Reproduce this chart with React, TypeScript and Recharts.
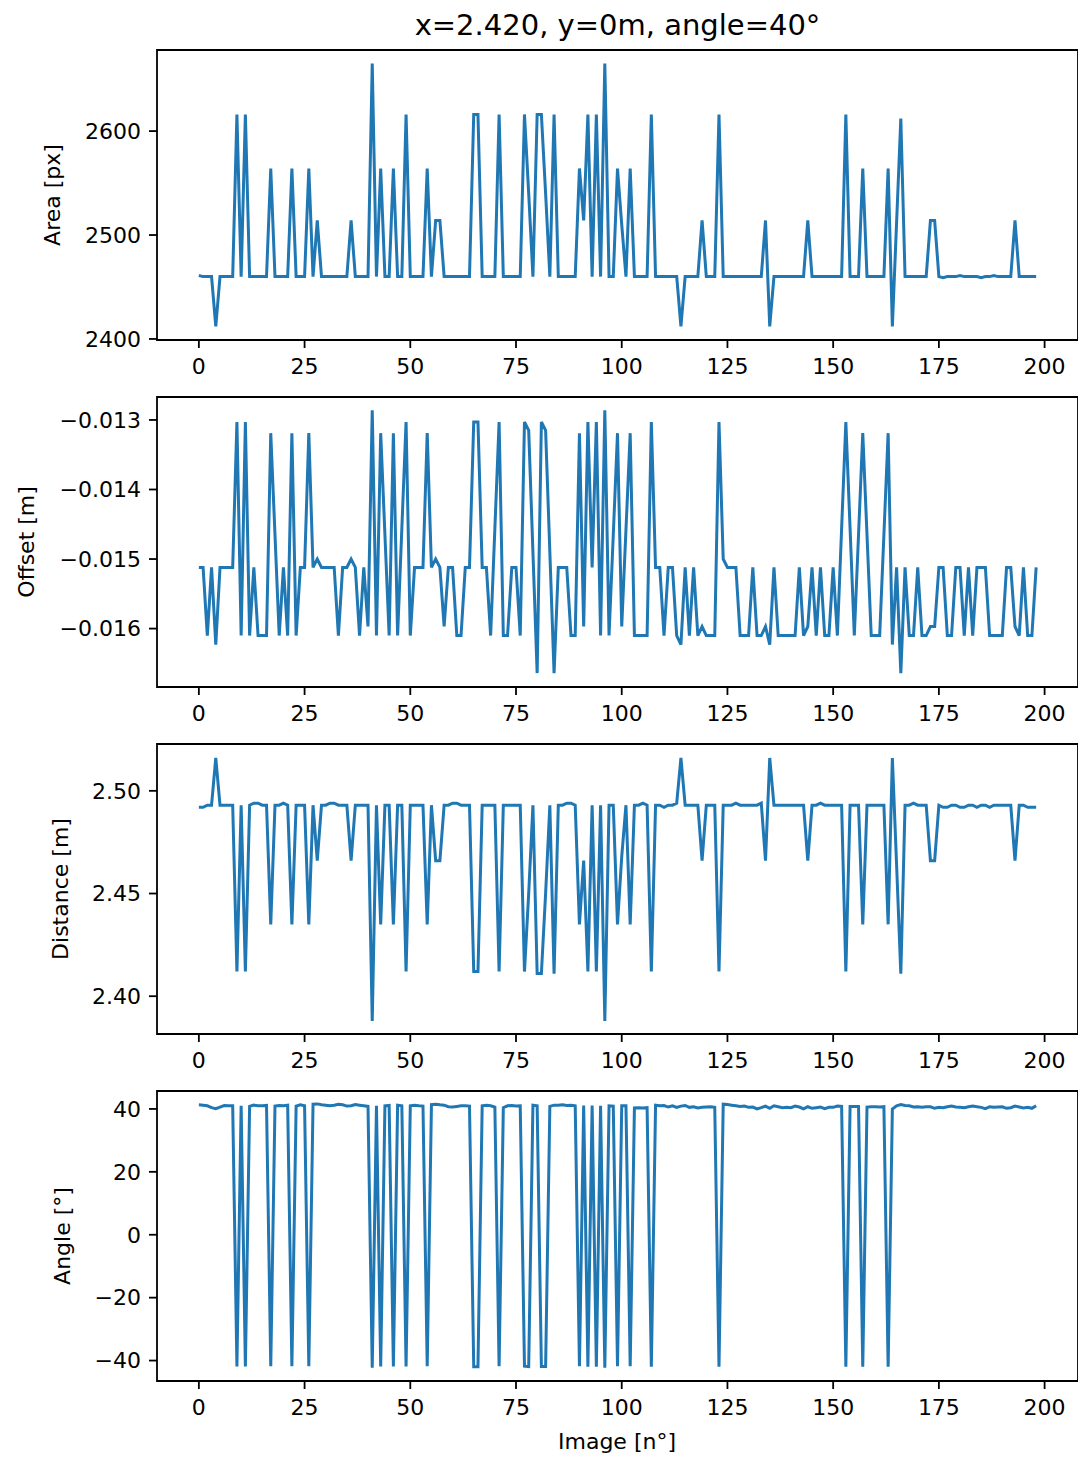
import { LineChart, Line, XAxis, YAxis, ReferenceArea } from 'recharts'

const FONT = '"DejaVu Sans", sans-serif'
const BLUE = '#1f77b4'

const IMAGE_TICKS = [0, 25, 50, 75, 100, 125, 150, 175, 200]
const AREA_TICKS = [2400, 2500, 2600]
const OFFSET_TICKS = [-0.016, -0.015, -0.014, -0.013]
const DISTANCE_TICKS = [2.4, 2.45, 2.5]
const ANGLE_TICKS = [-40, -20, 0, 20, 40]

// Area [px], one value per image
const AREA = [
  2461, 2460, 2460, 2460, 2412, 2460, 2460, 2460, 2460, 2616, 2460, 2616, 2460, 2460, 2460, 2460, 2460, 2564, 2460, 2460,
  2460, 2460, 2564, 2460, 2460, 2460, 2564, 2460, 2514, 2460, 2460, 2460, 2460, 2460, 2460, 2460, 2514, 2460, 2460, 2460,
  2460, 2665, 2460, 2564, 2460, 2460, 2564, 2460, 2460, 2616, 2460, 2460, 2460, 2460, 2564, 2460, 2514, 2514, 2460, 2460,
  2460, 2460, 2460, 2460, 2460, 2616, 2616, 2460, 2460, 2460, 2460, 2616, 2460, 2460, 2460, 2460, 2460, 2616, 2540, 2460,
  2616, 2616, 2540, 2460, 2616, 2460, 2460, 2460, 2460, 2460, 2564, 2514, 2616, 2460, 2616, 2460, 2665, 2460, 2460, 2564,
  2510, 2460, 2564, 2460, 2460, 2460, 2460, 2616, 2460, 2460, 2460, 2460, 2460, 2460, 2412, 2460, 2460, 2460, 2460, 2514,
  2460, 2460, 2460, 2616, 2460, 2460, 2460, 2460, 2460, 2460, 2460, 2460, 2460, 2460, 2514, 2412, 2460, 2460, 2460, 2460,
  2460, 2460, 2460, 2460, 2514, 2460, 2460, 2460, 2460, 2460, 2460, 2460, 2460, 2616, 2460, 2460, 2460, 2564, 2460, 2460,
  2460, 2460, 2460, 2564, 2412, 2512, 2612, 2460, 2460, 2460, 2460, 2460, 2460, 2514, 2514, 2460, 2459, 2460, 2460, 2460,
  2461, 2460, 2460, 2460, 2460, 2459, 2460, 2460, 2461, 2460, 2460, 2460, 2460, 2514, 2460, 2460, 2460, 2460, 2460,
]

// Offset [m]
const OFFSET = [
  -0.01512, -0.01512, -0.0161, -0.01512, -0.01623, -0.01512, -0.01512, -0.01512, -0.01512, -0.01303, -0.0161, -0.01303, -0.0161, -0.01512, -0.0161, -0.0161, -0.0161, -0.01319, -0.01465, -0.0161,
  -0.01512, -0.0161, -0.01319, -0.0161, -0.01512, -0.01512, -0.01319, -0.01512, -0.015, -0.01512, -0.01512, -0.01512, -0.01512, -0.0161, -0.01512, -0.01512, -0.015, -0.01512, -0.0161, -0.01512,
  -0.01597, -0.01286, -0.0161, -0.01319, -0.01465, -0.0161, -0.01319, -0.0161, -0.01456, -0.01303, -0.0161, -0.01512, -0.01512, -0.01512, -0.01319, -0.01512, -0.015, -0.01512, -0.01597, -0.01512,
  -0.01512, -0.0161, -0.0161, -0.01512, -0.01512, -0.01303, -0.01303, -0.01512, -0.01512, -0.0161, -0.01456, -0.01303, -0.0161, -0.0161, -0.01512, -0.01512, -0.0161, -0.01303, -0.01315, -0.0149,
  -0.01664, -0.01303, -0.01315, -0.0149, -0.01664, -0.01512, -0.01512, -0.01512, -0.0161, -0.0161, -0.01319, -0.01597, -0.01303, -0.01512, -0.01303, -0.0161, -0.01286, -0.0161, -0.01465, -0.01319,
  -0.01597, -0.01458, -0.01319, -0.0161, -0.0161, -0.0161, -0.0161, -0.01303, -0.01512, -0.01512, -0.0161, -0.01512, -0.01512, -0.0161, -0.01623, -0.01512, -0.0161, -0.01512, -0.0161, -0.01597,
  -0.0161, -0.0161, -0.0161, -0.01303, -0.015, -0.01512, -0.01512, -0.01512, -0.0161, -0.0161, -0.0161, -0.01512, -0.0161, -0.0161, -0.01597, -0.01623, -0.01512, -0.0161, -0.0161, -0.0161,
  -0.0161, -0.0161, -0.01512, -0.0161, -0.01597, -0.01512, -0.0161, -0.01512, -0.0161, -0.0161, -0.01512, -0.0161, -0.01456, -0.01303, -0.01456, -0.0161, -0.01465, -0.01319, -0.01465, -0.0161,
  -0.0161, -0.0161, -0.01465, -0.01319, -0.01623, -0.01512, -0.01664, -0.01512, -0.0161, -0.0161, -0.01512, -0.0161, -0.0161, -0.01597, -0.01597, -0.01512, -0.01512, -0.0161, -0.0161, -0.01512,
  -0.01512, -0.0161, -0.01512, -0.0161, -0.01512, -0.01512, -0.01512, -0.0161, -0.0161, -0.0161, -0.0161, -0.01512, -0.01512, -0.01597, -0.0161, -0.01512, -0.0161, -0.0161, -0.01512,
]

// Distance [m]
const DISTANCE = [
  2.492, 2.492, 2.493, 2.493, 2.516, 2.493, 2.493, 2.493, 2.493, 2.412, 2.493, 2.412, 2.493, 2.494, 2.494, 2.493, 2.493, 2.435, 2.493, 2.493,
  2.494, 2.493, 2.435, 2.493, 2.493, 2.493, 2.435, 2.493, 2.466, 2.493, 2.493, 2.494, 2.494, 2.493, 2.493, 2.493, 2.466, 2.493, 2.493, 2.493,
  2.493, 2.388, 2.493, 2.435, 2.493, 2.493, 2.435, 2.493, 2.493, 2.412, 2.493, 2.493, 2.493, 2.493, 2.435, 2.493, 2.466, 2.466, 2.493, 2.493,
  2.494, 2.494, 2.493, 2.493, 2.493, 2.412, 2.412, 2.493, 2.493, 2.493, 2.493, 2.412, 2.493, 2.493, 2.493, 2.493, 2.493, 2.412, 2.45, 2.493,
  2.411, 2.411, 2.45, 2.493, 2.411, 2.493, 2.493, 2.494, 2.494, 2.493, 2.435, 2.466, 2.412, 2.493, 2.412, 2.493, 2.388, 2.493, 2.493, 2.435,
  2.468, 2.493, 2.435, 2.493, 2.493, 2.494, 2.493, 2.412, 2.493, 2.493, 2.492, 2.493, 2.493, 2.494, 2.516, 2.493, 2.493, 2.493, 2.493, 2.466,
  2.493, 2.493, 2.493, 2.412, 2.493, 2.493, 2.493, 2.494, 2.493, 2.493, 2.493, 2.493, 2.493, 2.494, 2.466, 2.516, 2.493, 2.493, 2.493, 2.493,
  2.493, 2.493, 2.493, 2.493, 2.466, 2.493, 2.493, 2.494, 2.493, 2.493, 2.493, 2.493, 2.493, 2.412, 2.493, 2.493, 2.493, 2.435, 2.493, 2.493,
  2.493, 2.493, 2.493, 2.435, 2.516, 2.464, 2.411, 2.493, 2.493, 2.494, 2.493, 2.493, 2.493, 2.466, 2.466, 2.493, 2.492, 2.492, 2.493, 2.493,
  2.492, 2.492, 2.493, 2.493, 2.492, 2.493, 2.493, 2.492, 2.493, 2.493, 2.493, 2.493, 2.493, 2.466, 2.493, 2.493, 2.492, 2.492, 2.492,
]

// Angle [°]
const ANGLE = [
  41.3, 41.2, 41.0, 40.4, 40.1, 40.6, 41.1, 41.0, 41.0, -41.9, 41.0, -41.9, 40.8, 41.2, 41.0, 41.0, 41.1, -41.8, 40.9, 41.1,
  41.0, 41.2, -41.8, 40.9, 41.3, 41.0, -41.8, 41.5, 41.6, 41.3, 41.2, 41.0, 41.2, 41.5, 41.3, 40.9, 41.0, 41.4, 41.2, 41.0,
  40.8, -42.3, 41.0, -41.9, 41.0, 41.1, -41.9, 41.2, 41.0, -41.9, 41.0, 41.2, 41.0, 40.9, -41.8, 41.4, 41.5, 41.3, 41.2, 40.7,
  40.6, 40.8, 41.0, 41.0, 40.9, -42.0, -42.0, 41.0, 41.2, 41.0, 40.6, -41.8, 40.4, 41.0, 41.1, 40.9, 41.0, -41.8, -41.9, 41.2,
  41.0, -41.9, -41.9, 40.8, 41.2, 41.2, 41.3, 41.1, 41.2, 41.0, -41.8, 41.1, -42.0, 41.1, -42.0, 41.0, -42.3, 41.0, 40.9, -41.8,
  41.0, 41.0, -41.8, 40.3, 40.4, 40.3, 40.4, -42.0, 41.2, 41.0, 41.1, 40.6, 41.0, 40.5, 40.9, 41.1, 40.5, 40.7, 40.3, 40.5,
  40.6, 40.7, 40.5, -42.0, 41.5, 41.4, 41.2, 41.0, 40.8, 40.9, 40.5, 40.6, 40.0, 40.4, 40.9, 40.2, 41.0, 40.7, 40.4, 40.5,
  40.4, 40.9, 40.6, 40.0, 40.7, 40.2, 40.4, 40.6, 40.1, 40.5, 40.5, 40.9, 40.8, -42.0, 40.8, 40.8, 40.8, -42.0, 40.6, 40.7,
  40.7, 40.6, 40.7, -42.0, 40.0, 41.0, 41.4, 41.1, 41.0, 40.6, 40.7, 40.5, 40.7, 40.7, 40.2, 40.5, 40.4, 40.7, 40.9, 40.6,
  40.5, 40.4, 40.7, 40.9, 40.7, 40.5, 40.1, 40.7, 40.5, 40.6, 40.7, 40.2, 40.4, 40.9, 40.6, 40.3, 40.5, 40.2, 41.0,
]

const rows = AREA.map((a, i) => ({ i, area: a, offset: OFFSET[i], distance: DISTANCE[i], angle: ANGLE[i] }))

const X_DOMAIN: [number, number] = [-9.9, 207.9]
const PLOT_H = 290
const TOP_PAD = 10

const minus = (s: string) => s.replace('-', '\u2212')

const tickStyle = { fill: '#000', fontSize: 22, fontFamily: FONT }
const tickLineStyle = { stroke: '#000', strokeWidth: 1.8 }

function yLabel(text: string, x: number) {
  const y = TOP_PAD + PLOT_H / 2
  return () => (
    <text x={x} y={y} transform={`rotate(-90 ${x} ${y})`} textAnchor="middle" dominantBaseline="central"
      fontSize={22} fontFamily={FONT} fill="#000">{text}</text>
  )
}

function xLabel() {
  return (
    <text x={617} y={TOP_PAD + PLOT_H + 60} textAnchor="middle" dominantBaseline="central"
      fontSize={22} fontFamily={FONT} fill="#000">Image [n°]</text>
  )
}

type PanelProps = {
  top: number
  dataKey: string
  domain: [number, number]
  ticks: number[]
  fmt?: (v: number) => string
  label: string
  labelX: number
  last?: boolean
}

function Panel({ top, dataKey, domain, ticks, fmt, label, labelX, last }: PanelProps) {
  const xh = last ? 80 : 50
  return (
    <div style={{ position: 'absolute', left: 0, top: top - TOP_PAD }}>
      <LineChart width={1078} height={TOP_PAD + PLOT_H + xh} data={rows} margin={{ top: TOP_PAD, right: 0, bottom: 0, left: 0 }}>
        <XAxis dataKey="i" type="number" domain={X_DOMAIN} ticks={IMAGE_TICKS} allowDataOverflow interval={0}
          height={xh} tickSize={8} tickMargin={10} axisLine={false} tickLine={tickLineStyle} tick={tickStyle}
          label={last ? xLabel : undefined} />
        <YAxis type="number" domain={domain} ticks={ticks} allowDataOverflow interval={0} width={157}
          tickSize={8} tickMargin={8} axisLine={false} tickLine={tickLineStyle} tick={tickStyle}
          tickFormatter={fmt} label={yLabel(label, labelX)} />
        <Line dataKey={dataKey} type="linear" stroke={BLUE} strokeWidth={3} dot={false} isAnimationActive={false} />
        <ReferenceArea x1={X_DOMAIN[0]} x2={X_DOMAIN[1]} y1={domain[0]} y2={domain[1]}
          fill="none" fillOpacity={0} stroke="#000" strokeWidth={1.8} ifOverflow="visible" />
      </LineChart>
    </div>
  )
}

export default function App() {
  return (
    <div style={{ position: 'absolute', left: 0, top: 0, width: 1078, height: 1459, background: '#fff', fontFamily: FONT, overflow: 'hidden' }}>
      <div style={{ position: 'absolute', top: 11, left: 157, width: 921, textAlign: 'center', fontSize: 29, lineHeight: 1, color: '#000' }}>
        x=2.420, y=0m, angle=40°
      </div>
      <Panel top={50} dataKey="area" domain={[2399, 2678]} ticks={AREA_TICKS} label="Area [px]" labelX={52} />
      <Panel top={397} dataKey="offset" domain={[-0.01684, -0.01267]} ticks={OFFSET_TICKS}
        fmt={(v) => minus(v.toFixed(3))} label="Offset [m]" labelX={26} />
      <Panel top={744} dataKey="distance" domain={[2.3816, 2.5228]} ticks={DISTANCE_TICKS}
        fmt={(v) => v.toFixed(2)} label="Distance [m]" labelX={60} />
      <Panel top={1091} dataKey="angle" domain={[-46.5, 45.7]} ticks={ANGLE_TICKS}
        fmt={(v) => minus(String(v))} label="Angle [°]" labelX={62} last />
    </div>
  )
}
